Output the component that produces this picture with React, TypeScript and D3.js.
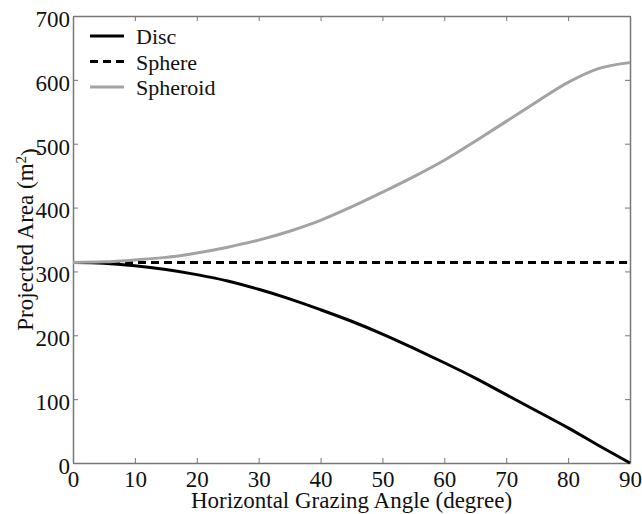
import React, { useEffect, useRef } from 'react';
import * as d3 from 'd3';

// grazing angle in degrees
const angles = [0, 5, 10, 15, 20, 25, 30, 35, 40, 45, 50, 55, 60, 65, 70, 75, 80, 85, 90];
// projected areas (m^2)
const disc = [314, 313, 309, 303, 295, 285, 272, 257, 240, 222, 202, 180, 157, 133, 107, 81, 55, 27, 0];
const sphere = [314, 314, 314, 314, 314, 314, 314, 314, 314, 314, 314, 314, 314, 314, 314, 314, 314, 314, 314];
const spheroid = [314, 315, 318, 322, 329, 338, 349, 363, 380, 401, 424, 448, 474, 504, 535, 566, 596, 618, 627];

const xTicks = [0, 10, 20, 30, 40, 50, 60, 70, 80, 90];
const yTicks = [0, 100, 200, 300, 400, 500, 600, 700];

const series = [
  { name: 'Disc', values: disc, color: '#000', dash: null },
  { name: 'Sphere', values: sphere, color: '#000', dash: '8,5' },
  { name: 'Spheroid', values: spheroid, color: '#a3a3a3', dash: null },
];

const font = 'Liberation Serif, DejaVu Serif, Times New Roman, serif';

const App = () => {
  const svgRef = useRef<SVGSVGElement>(null);

  useEffect(() => {
    const svg = d3.select(svgRef.current);
    svg.selectAll('*').remove();

    const width = 642;
    const height = 514;
    const margin = { top: 16, right: 12, bottom: 51, left: 73 };
    const innerWidth = width - margin.left - margin.right;
    const innerHeight = height - margin.top - margin.bottom;
    const axisColor = '#777';

    const g = svg.append('g').attr('transform', `translate(${margin.left},${margin.top})`);

    const x = d3.scaleLinear().domain([0, 90]).range([0, innerWidth]);
    const y = d3.scaleLinear().domain([0, 700]).range([innerHeight, 0]);

    // axes, ticks pointing inward, box on all sides
    const styleAxis = (sel) => {
      sel.attr('font-family', null).attr('font-size', null);
      sel.select('.domain').attr('stroke', axisColor).attr('stroke-width', 1.5);
      sel.selectAll('.tick line').attr('stroke', axisColor).attr('stroke-width', 1);
      sel.selectAll('.tick text')
        .style('font-family', font)
        .style('font-size', '23px')
        .attr('fill', '#111');
    };

    g.append('g')
      .attr('transform', `translate(0,${innerHeight})`)
      .call(d3.axisBottom(x).tickValues(xTicks).tickSizeInner(-5).tickSizeOuter(0).tickPadding(8))
      .call(styleAxis);

    g.append('g')
      .call(d3.axisTop(x).tickValues(xTicks).tickSizeInner(-5).tickSizeOuter(0).tickFormat(() => ''))
      .call(styleAxis);

    g.append('g')
      .call(d3.axisLeft(y).tickValues(yTicks).tickSizeInner(-5).tickSizeOuter(0).tickPadding(3))
      .call(styleAxis)
      .selectAll('.tick text')
      .attr('dy', '0.45em');

    g.append('g')
      .attr('transform', `translate(${innerWidth},0)`)
      .call(d3.axisRight(y).tickValues(yTicks).tickSizeInner(-5).tickSizeOuter(0).tickFormat(() => ''))
      .call(styleAxis);

    // lines
    const line = d3.line<number>()
      .x((_, i) => x(angles[i]))
      .y((d) => y(d))
      .curve(d3.curveCatmullRom.alpha(0.5));

    series.forEach((s) => {
      g.append('path')
        .datum(s.values)
        .attr('fill', 'none')
        .attr('stroke', s.color)
        .attr('stroke-width', 3)
        .attr('stroke-dasharray', s.dash)
        .attr('d', line);
    });

    // legend
    const legend = g.append('g').attr('transform', 'translate(17,20)');
    series.forEach((s, i) => {
      const row = legend.append('g').attr('transform', `translate(0,${i * 25.5})`);
      row.append('line')
        .attr('x1', 0).attr('x2', 34)
        .attr('y1', 0).attr('y2', 0)
        .attr('stroke', s.color)
        .attr('stroke-width', 3)
        .attr('stroke-dasharray', s.dash);
      row.append('text')
        .attr('x', 46)
        .attr('y', 8)
        .style('font-family', font)
        .style('font-size', '22px')
        .attr('fill', '#111')
        .text(s.name);
    });

    // axis titles
    svg.append('text')
      .attr('x', margin.left + innerWidth / 2)
      .attr('y', 508)
      .attr('text-anchor', 'middle')
      .style('font-family', font)
      .style('font-size', '23px')
      .attr('fill', '#111')
      .text('Horizontal Grazing Angle (degree)');

    const yt = svg.append('text')
      .attr('transform', `translate(33,${margin.top + innerHeight / 2}) rotate(-90)`)
      .attr('text-anchor', 'middle')
      .style('font-family', font)
      .style('font-size', '23px')
      .attr('fill', '#111');
    yt.append('tspan').text('Projected Area (m');
    yt.append('tspan').attr('dy', '-0.45em').style('font-size', '15px').text('2');
    yt.append('tspan').attr('dy', '0.45em').text(')');
  }, []);

  return (
    <svg
      ref={svgRef}
      width="642"
      height="514"
      style={{ position: 'absolute', left: 0, top: 0, background: '#fff' }}
    />
  );
};

export default App;
